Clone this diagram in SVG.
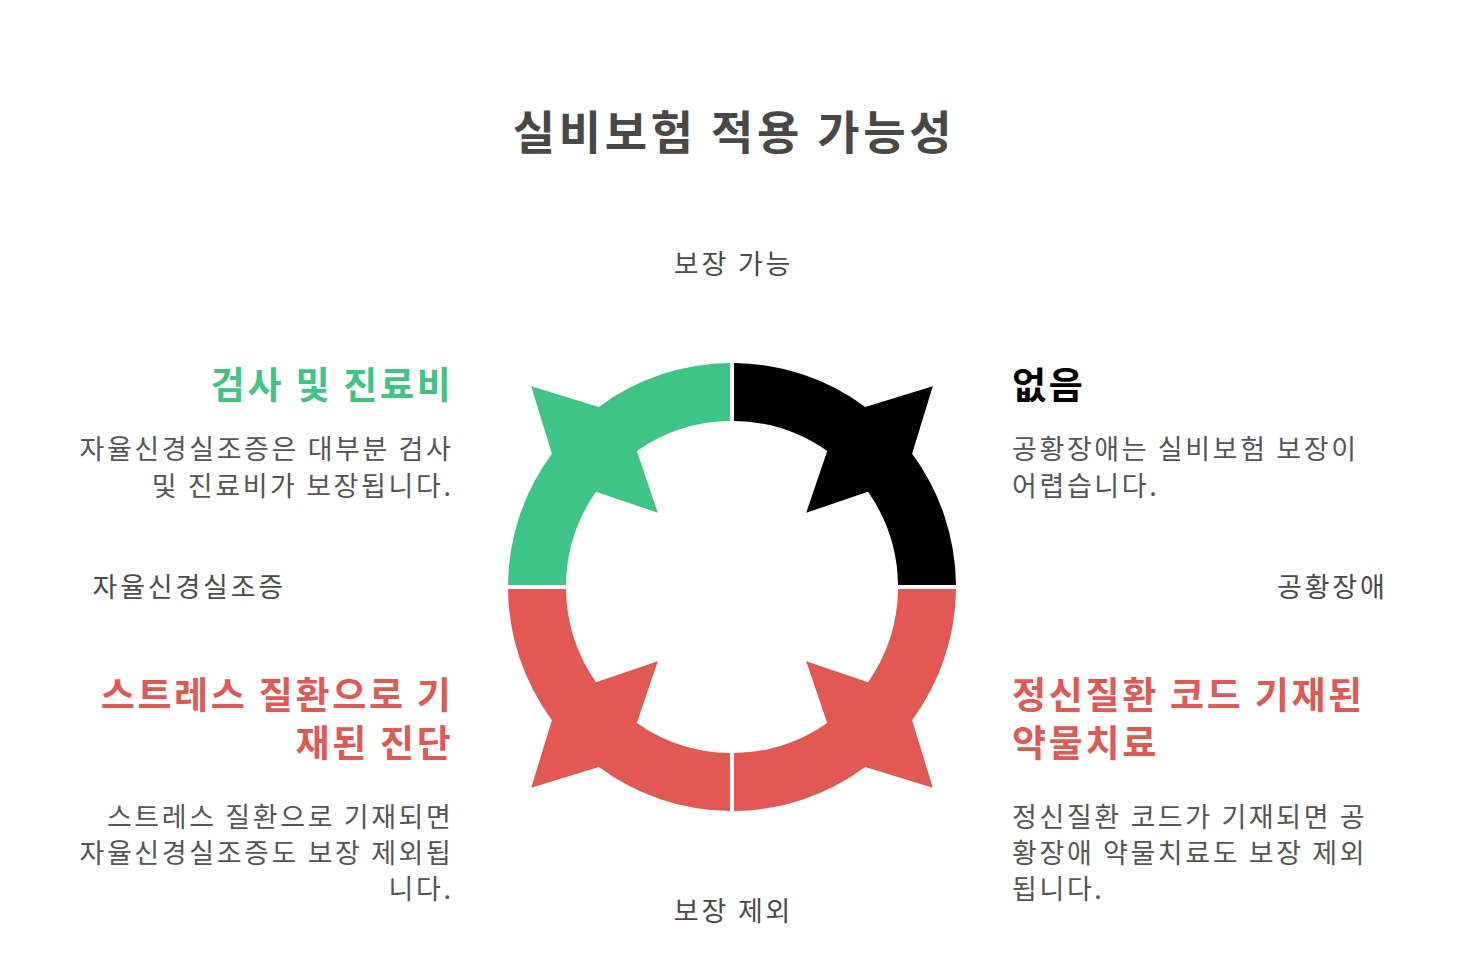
<svg xmlns="http://www.w3.org/2000/svg" width="1464" height="973" viewBox="0 0 1464 973">
<style>
text{font-family:"Noto Sans CJK KR","Noto Sans",sans-serif}
.title{font-size:46px;font-weight:bold;fill:#484848;text-anchor:middle;letter-spacing:3.7px}
.axis{font-size:27px;fill:#4a4a4a;letter-spacing:2.8px}
.head{font-size:37px;font-weight:bold;letter-spacing:2.7px}
.body{font-size:27px;fill:#555;letter-spacing:2.6px}
.r{text-anchor:end}
.green{fill:#3DC585}
.red{fill:#E35853}
.black{fill:#000}
</style>
<rect width="1464" height="973" fill="#fff"/>
<text class="title" x="734" y="149">실비보험 적용 가능성</text>
<g id="connectors">
<path id="arc-tl" class="green" d="M730,363 A224,224 0 0 0 598.8,406.9 L531.2,386.2 L551.9,453.8 A224,224 0 0 0 508,585 L566,585 A166,166 0 0 1 596,491.8 L657.8,512.8 L636.8,451 A166,166 0 0 1 730,421 Z"/>
<path id="arc-tr" class="black" d="M734,363 A224,224 0 0 1 865.2,406.9 L932.8,386.2 L912.1,453.8 A224,224 0 0 1 956,585 L898,585 A166,166 0 0 0 868,491.8 L806.2,512.8 L827.2,451 A166,166 0 0 0 734,421 Z"/>
<path id="arc-bl" class="red" d="M730,811 A224,224 0 0 1 598.8,767.1 L531.2,787.8 L551.9,720.2 A224,224 0 0 1 508,589 L566,589 A166,166 0 0 0 596,682.2 L657.8,661.2 L636.8,723 A166,166 0 0 0 730,753 Z"/>
<path id="arc-br" class="red" d="M734,811 A224,224 0 0 0 865.2,767.1 L932.8,787.8 L912.1,720.2 A224,224 0 0 0 956,589 L898,589 A166,166 0 0 1 868,682.2 L806.2,661.2 L827.2,723 A166,166 0 0 1 734,753 Z"/>
</g>
<g id="axis-labels">
<text class="axis" x="733.5" y="274" text-anchor="middle">보장 가능</text>
<text class="axis" x="733.5" y="921" text-anchor="middle">보장 제외</text>
<text class="axis" x="286" y="597" text-anchor="end">자율신경실조증</text>
<text class="axis" x="1277" y="597">공황장애</text>
</g>
<g id="node-tl">
<text class="head green r" x="453.5" y="399">검사 및 진료비</text>
<text class="body r" x="453.5" y="459">자율신경실조증은 대부분 검사</text>
<text class="body r" x="453.5" y="496">및 진료비가 보장됩니다.</text>
</g>
<g id="node-tr">
<text class="head black" x="1012" y="399">없음</text>
<text class="body" x="1012" y="459">공황장애는 실비보험 보장이</text>
<text class="body" x="1012" y="496">어렵습니다.</text>
</g>
<g id="node-bl">
<text class="head red r" x="453.5" y="709">스트레스 질환으로 기</text>
<text class="head red r" x="453.5" y="757">재된 진단</text>
<text class="body r" x="453.5" y="827">스트레스 질환으로 기재되면</text>
<text class="body r" x="453.5" y="863">자율신경실조증도 보장 제외됩</text>
<text class="body r" x="453.5" y="899">니다.</text>
</g>
<g id="node-br">
<text class="head red" x="1012" y="709">정신질환 코드 기재된</text>
<text class="head red" x="1012" y="757">약물치료</text>
<text class="body" x="1012" y="827">정신질환 코드가 기재되면 공</text>
<text class="body" x="1012" y="863">황장애 약물치료도 보장 제외</text>
<text class="body" x="1012" y="899">됩니다.</text>
</g>
</svg>
